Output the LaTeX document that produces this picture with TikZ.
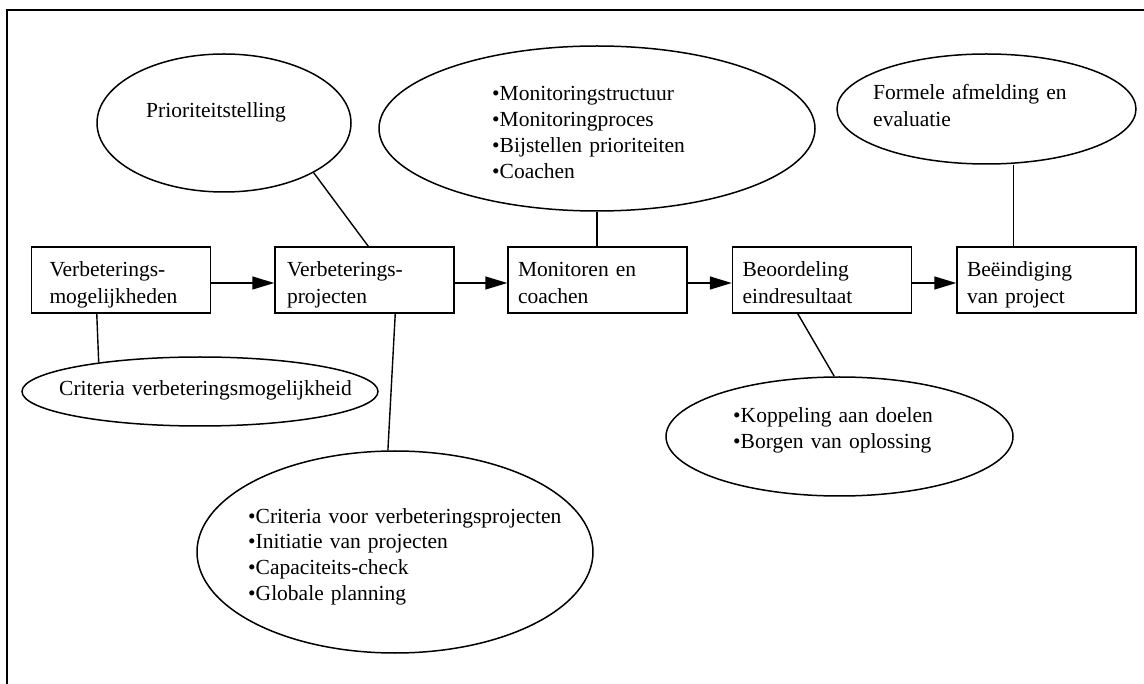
\documentclass[tikz,border=0pt]{standalone}
\usepackage{fontspec}
\setmainfont{Liberation Serif}
\usetikzlibrary{shapes.geometric,arrows.meta,calc}

\begin{document}
\begin{tikzpicture}[x=1pt,y=-1pt,
  stage/.style={draw, line width=1.5pt, minimum width=179pt, minimum height=66pt,
    inner xsep=10pt, text width=159pt, align=left, text height=15pt, text depth=21pt,
    font=\fontsize{21.5pt}{27pt}\selectfont},
  blob/.style={draw, ellipse, line width=1.5pt, inner sep=0pt},
  note/.style={inner sep=0pt, anchor=base west, align=left,
    font=\fontsize{21.5pt}{25.8pt}\selectfont},
  flow/.style={line width=1.5pt, -{Triangle[length=22pt,width=13pt]}},
  link/.style={line width=1.4pt},
]
\useasboundingbox (0,0) rectangle (1144,684);

% outer frame (top and left sides only)
\draw[line width=1.5pt] (1146,10) -- (7,10) -- (7,686);

% process steps
\node[stage, inner xsep=18pt, text width=143pt] (b1) at (121,280) {Verbeterings-\\mogelijkheden};
\node[stage, inner xsep=12pt, text width=155pt] (b2) at (364.5,280) {Verbeterings-\\projecten};
\node[stage] (b3) at (597.5,280) {Monitoren en\\coachen};
\node[stage] (b4) at (822,280) {Beoordeling\\eindresultaat};
\node[stage] (b5) at (1046.5,280) {Beëindiging\\van project};

% ellipses
\node[blob, minimum width=254pt, minimum height=138pt] (prio) at (224,123) {};
\node[blob, minimum width=436pt, minimum height=165pt] (mon) at (597,128.5) {};
\node[blob, minimum width=299pt, minimum height=110pt] (form) at (986.5,109) {};
\node[blob, minimum width=356pt, minimum height=69pt] (crit1) at (200,391.5) {};
\node[blob, minimum width=396pt, minimum height=202pt] (crit2) at (395,552) {};
\node[blob, minimum width=347pt, minimum height=119pt] (kop) at (839.5,436.5) {};

% ellipse texts
\node[note, text width=170pt] (prioT) at (146,118) {Prioriteitstelling};
\node[note, text width=240pt] (monT) at (492,101) {\textbullet Monitoringstructuur\\\textbullet Monitoringproces\\\textbullet Bijstellen prioriteiten\\\textbullet Coachen};
\node[note, text width=240pt, font=\fontsize{21.5pt}{27pt}\selectfont] (formT) at (873,100) {Formele afmelding en\\evaluatie};
\node[note, text width=320pt] (crit1T) at (59,396) {Criteria verbeteringsmogelijkheid};
\node[note, text width=340pt] (crit2T) at (248,523) {\textbullet Criteria voor verbeteringsprojecten\\\textbullet Initiatie van projecten\\\textbullet Capaciteits-check\\\textbullet Globale planning};
\node[note, text width=240pt] (kopT) at (733,423) {\textbullet Koppeling aan doelen\\\textbullet Borgen van oplossing};

% flow between steps
\draw[flow] ([yshift=-3pt]b1.east) -- ([yshift=-3pt]b2.west);
\draw[flow] ([yshift=-3pt]b2.east) -- ([yshift=-3pt]b3.west);
\draw[flow] ([yshift=-3pt]b3.east) -- ([yshift=-3pt]b4.west);
\draw[flow] ([yshift=-3pt]b4.east) -- ([yshift=-3pt]b5.west);

% links from steps to their ellipses
\draw[link] (prio.-29) -- ([xshift=94pt]b2.north west);
\draw[link] (mon.south) -- (mon.south |- b3.north);
\coordinate (f5) at ([xshift=57pt]b5.north west);
\draw[link] (f5) -- (f5 |- form.south);
\coordinate (g1) at ([xshift=66pt]b1.south west);
\draw[link] (g1) -- (crit1.164.7);
\coordinate (g2) at ([xshift=121pt]b2.south west);
\draw[link] (g2) -- (crit2.94.5);
\coordinate (g4) at ([xshift=66pt]b4.south west);
\draw[link] (g4) -- (kop.95);
\end{tikzpicture}
\end{document}
